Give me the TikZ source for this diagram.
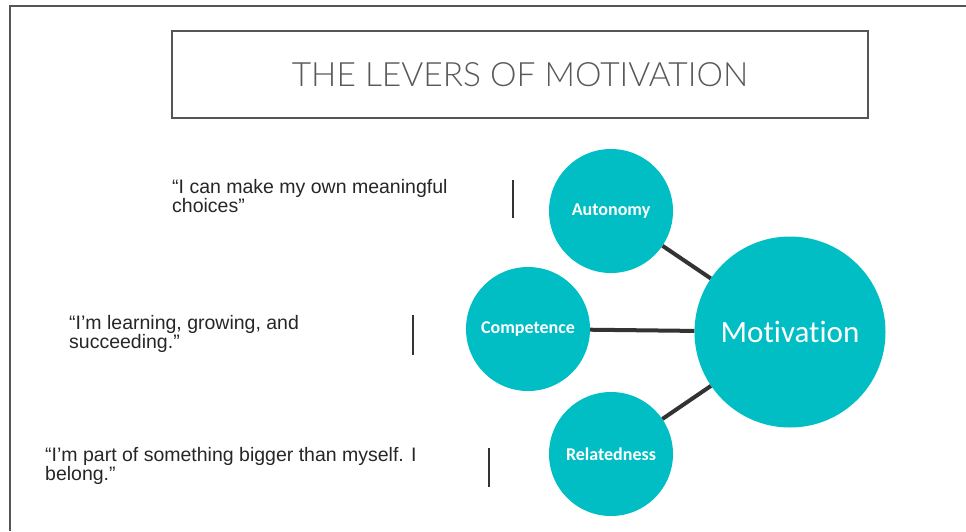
\documentclass[tikz,border=0pt]{standalone}
\usepackage{fontspec}
\setmainfont{Liberation Sans}
\newfontfamily\thinfont{Lato Light}
\newfontfamily\bubblefont{Carlito}[Ligatures=NoCommon]
\usetikzlibrary{positioning}

\definecolor{lever}{RGB}{0,190,196}
\definecolor{framegray}{RGB}{85,85,85}

\begin{document}
\begin{tikzpicture}[x=1pt, y=-1pt,
  every node/.style={font=\fontsize{19.5}{19}\selectfont},
  headbox/.style={draw=framegray, line width=2.5pt, minimum width=696pt,
                  minimum height=87pt, inner sep=0pt, text=black!65,
                  font=\thinfont\fontsize{33.5}{33.5}\selectfont},
  quote/.style={anchor=north west, align=left, inner sep=0pt, text=black!85},
  bar/.style={draw=black!80, line width=1.6pt},
  lever/.style={circle, fill=lever, text=white, minimum size=124pt, inner sep=0pt,
                font=\bubblefont\bfseries\fontsize{18}{18}\selectfont},
  hub/.style={circle, fill=lever, text=white, minimum size=191pt, inner sep=0pt,
              font=\bubblefont\fontsize{31}{31}\selectfont},
  link/.style={draw=black!80, line width=4pt}]

\useasboundingbox (0,0) rectangle (966,531);

%% ---- page frame and heading ----
\draw[framegray, line width=2pt] (966,6) -- (10,6) -- (10,531);
\node[headbox] (HEAD) at (520,74.5) {THE LEVERS OF MOTIVATION};

%% ---- quotes (left column) ----
\node[quote] (QAUT) at (172,179) {“I can make my own meaningful\\choices”};
\node[quote] (QCOM) at (69,315)  {“I'm learning, growing, and\\succeeding.”};
\node[quote] (QREL) at (45,447)  {“I'm part of something bigger than myself. I\\belong.”};

\draw[bar] (513,180) -- (513,218);
\draw[bar] (413,315) -- (413,355);
\draw[bar] (489,448) -- (489,487);

%% ---- levers ----
\node[lever] (AUT)  at (611,211) {Autonomy};
\node[lever] (COM)  at (528,329) {Competence};
\node[lever] (REL)  at (611,454) {Relatedness};
\node[hub]   (MOTI) at (790,332) {Motivation};

\draw[link] (AUT) -- (MOTI);
\draw[link] (COM) -- (MOTI);
\draw[link] (REL) -- (MOTI);
\end{tikzpicture}
\end{document}
